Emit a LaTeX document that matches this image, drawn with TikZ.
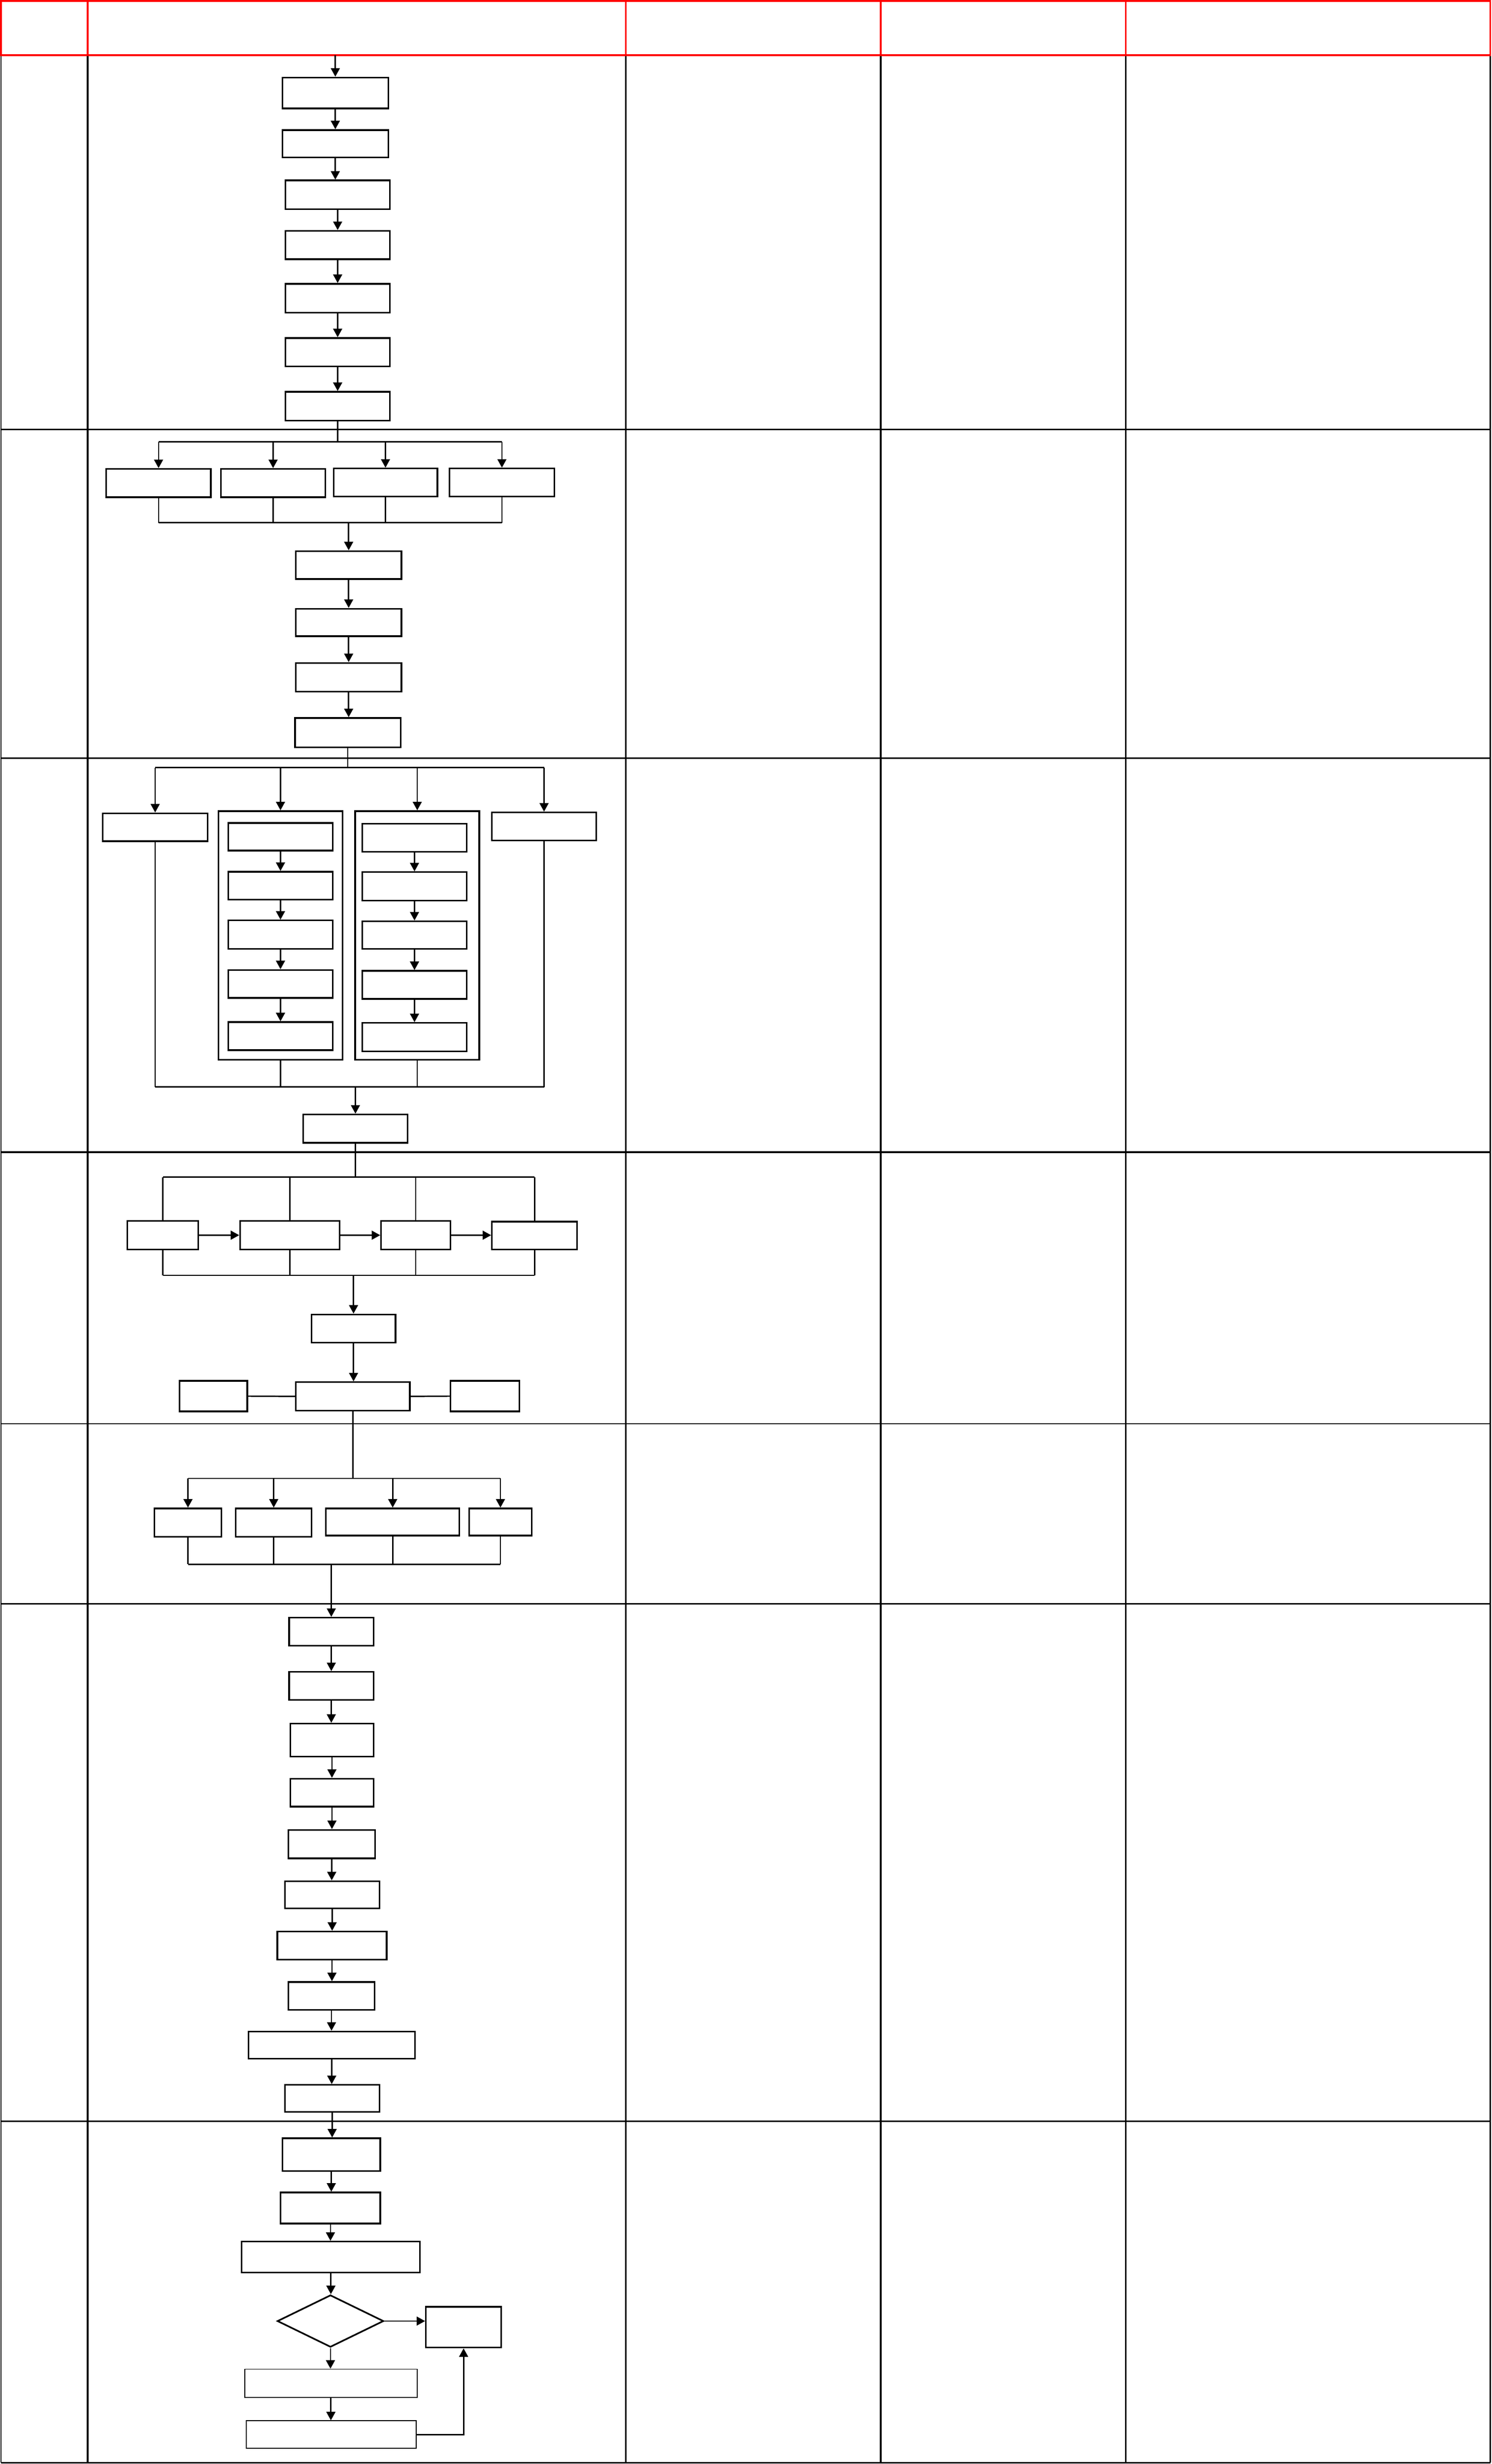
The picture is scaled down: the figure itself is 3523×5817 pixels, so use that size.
\documentclass[tikz,border=0pt]{standalone}
\usetikzlibrary{arrows.meta}
\usetikzlibrary{shapes.geometric}

\begin{document}
\begin{tikzpicture}
[x=0.01cm,y=-0.01cm,%
  boxDecorate/.style={shape=rectangle,draw,line width=1.1pt,inner sep=0pt},%
  thinDecorate/.style={shape=rectangle,draw,line width=0.6pt,inner sep=0pt},%
  diamondDecorate/.style={shape=diamond,draw,line width=1.1pt,inner sep=0pt,minimum width=2.51cm,minimum height=1.23cm},%
  lineDecorate/.style={-,line width=0.9pt},%
  arrowDecorate/.style={-{Triangle[length=5.7pt,width=6pt]},line width=0.9pt},%
  gridRed/.style={draw=red,line width=1.2pt},%
  gridBlack/.style={draw=black,line width=1.1pt}]
\fill[white] (0,0) rectangle (3523,5817);
\useasboundingbox (0,0) rectangle (3523,5817);
%% table grid
\draw[gridBlack,line width=0.6pt] (2,130) -- (2,5814);
\foreach \x in {207,1478,2080,2659,3520}
{
  \draw[gridBlack] (\x,130) -- (\x,5814);
}
\foreach \y in {1014,1790,2720,3786,5008,5814}
{
  \draw[gridBlack] (2,\y) -- (3520,\y);
}
\draw[gridBlack,line width=0.6pt] (2,3361) -- (3520,3361);
%% header row
\draw[gridRed] (2,2) rectangle (3520,130);
\foreach \x in {207,1478,2080,2659}
{
  \draw[gridRed] (\x,2) -- (\x,130);
}
%% boxes
\foreach \nodename/\x/\y/\w/\h in {
  s1a/792/219.5/2.50/0.73, s1b/792/339.5/2.50/0.65,
  s1c/797.5/460/2.47/0.68, s1d/797.5/578.5/2.47/0.67,
  s1e/797.5/704/2.47/0.68, s1f/797.5/831.5/2.47/0.67,
  s1g/797.5/959/2.47/0.68,
  s2a/374.5/1140.5/2.47/0.67, s2b/645/1140.5/2.46/0.67,
  s2c/910.5/1139/2.45/0.66, s2d/1185.5/1139/2.47/0.66,
  s2e/823.5/1334/2.49/0.66, s2f/823.5/1469.5/2.49/0.65,
  s2g/823.5/1599/2.49/0.68, s2h/821.5/1729.5/2.49/0.69,
  s3l/366.5/1953/2.47/0.66, s3r/1285/1951/2.46/0.66,
  grp1/662.5/2208.5/2.93/5.87, grp2/985.5/2208.5/2.93/5.87,
  g1a/662.5/1975.5/2.47/0.65, g1b/662.5/2091/2.47/0.66,
  g1c/662.5/2206.5/2.47/0.67, g1d/662.5/2323/2.47/0.66,
  g1e/662.5/2446/2.47/0.66,
  g2a/979/1978/2.46/0.66, g2b/979/2092.5/2.46/0.67,
  g2c/979/2207.5/2.46/0.65, g2d/979/2325/2.46/0.66,
  g2e/979/2448.5/2.46/0.67,
  s3s/839.5/2664.5/2.47/0.67,
  s4a/384.5/2916/1.67/0.68, s4b/684.5/2916/2.35/0.68,
  s4c/982/2916/1.64/0.68, s4d/1262.5/2917/2.01/0.66,
  s4t/835/3136.5/1.98/0.67, s4u/833.5/3296.5/2.69/0.67,
  s4v/504/3296/1.60/0.72, s4w/1145.5/3296/1.63/0.72,
  s5a/444/3594.5/1.58/0.67, s5b/646.5/3594.5/1.79/0.67,
  s5c/927.5/3593/3.15/0.64, s5d/1182/3593/1.48/0.64,
  s6a/782.5/3852/1.99/0.66, s6b/782.5/3980/1.99/0.66,
  s6c/784/4108/1.96/0.78, s6d/784/4232/1.96/0.66,
  s6e/783.5/4353.5/2.05/0.67, s6f/784.5/4473/2.23/0.64,
  s6g/784/4593/2.58/0.66, s6h/783/4712/2.04/0.66,
  s6i/783.5/4828/3.93/0.64, s6j/784.5/4954/2.23/0.64,
  s7a/782.5/5086.5/2.31/0.77, s7b/780.5/5212.5/2.35/0.73,
  s7c/781.5/5328.5/4.21/0.73, s7d/1095/5494/1.78/0.96}
{
  \node[boxDecorate,minimum width=\w cm,minimum height=\h cm] (\nodename) at (\x,\y) {};
}
\node[thinDecorate,minimum width=4.07cm,minimum height=0.67cm] (s7e) at (781.5,5626.5) {};
\node[thinDecorate,minimum width=4.01cm,minimum height=0.65cm] (s7f) at (782.5,5747.5) {};
\node[diamondDecorate] (s7q) at (780.5,5479.5) {};
%% branch and merge points
\coordinate (entry) at (792,130);
\coordinate (fork2) at (797.5,1043);
\coordinate (merge2) at (823.5,1234);
\coordinate (fork3) at (821.5,1812);
\coordinate (merge3) at (839.5,2566);
\coordinate (fork4) at (839.5,2779);
\coordinate (merge4) at (835,3011);
\coordinate (fork5) at (833.5,3490);
\coordinate (merge5) at (782.5,3693);
%% straight chains
\draw[arrowDecorate] (entry) -- (s1a.north);
\foreach \from/\to in {
  s1a/s1b, s1b/s1c, s1c/s1d, s1d/s1e, s1e/s1f, s1f/s1g,
  s2e/s2f, s2f/s2g, s2g/s2h,
  g1a/g1b, g1b/g1c, g1c/g1d, g1d/g1e,
  g2a/g2b, g2b/g2c, g2c/g2d, g2d/g2e,
  s4t/s4u,
  s6a/s6b, s6b/s6c, s6c/s6d, s6d/s6e, s6e/s6f, s6f/s6g, s6g/s6h,
  s6h/s6i, s6i/s6j, s6j/s7a,
  s7a/s7b, s7b/s7c, s7c/s7q, s7q/s7e, s7e/s7f}
{
  \draw[arrowDecorate] (\from.south) -- (\from.south |- \to.north);
}
%% fork and merge, part 2
\draw[lineDecorate] (s1g.south) -- (fork2);
\draw[lineDecorate] (s2a.north |- fork2) -- (s2d.north |- fork2);
\draw[lineDecorate] (s2a.south |- merge2) -- (s2d.south |- merge2);
\foreach \nodename in {s2a,s2b,s2c,s2d}
{
  \draw[arrowDecorate] (\nodename.north |- fork2) -- (\nodename.north);
  \draw[lineDecorate] (\nodename.south) -- (\nodename.south |- merge2);
}
\draw[arrowDecorate] (merge2) -- (s2e.north);
%% fork and merge, part 3
\draw[lineDecorate] (s2h.south) -- (fork3);
\draw[lineDecorate] (s3l.north |- fork3) -- (s3r.north |- fork3);
\draw[lineDecorate] (s3l.south |- merge3) -- (s3r.south |- merge3);
\foreach \nodename in {s3l,grp1,grp2,s3r}
{
  \draw[arrowDecorate] (\nodename.north |- fork3) -- (\nodename.north);
  \draw[lineDecorate] (\nodename.south) -- (\nodename.south |- merge3);
}
\draw[arrowDecorate] (merge3) -- (s3s.north);
%% fork and merge, part 4
\draw[lineDecorate] (s3s.south) -- (fork4);
\draw[lineDecorate] (s4a.north |- fork4) -- (s4d.north |- fork4);
\draw[lineDecorate] (s4a.south |- merge4) -- (s4d.south |- merge4);
\foreach \nodename in {s4a,s4b,s4c,s4d}
{
  \draw[lineDecorate] (\nodename.north |- fork4) -- (\nodename.north);
  \draw[lineDecorate] (\nodename.south) -- (\nodename.south |- merge4);
}
\foreach \from/\to in {s4a/s4b, s4b/s4c, s4c/s4d}
{
  \draw[arrowDecorate] (\from.east) -- (\from.east -| \to.west);
}
\draw[arrowDecorate] (merge4) -- (s4t.north);
\draw[lineDecorate] (s4v.east) -- (s4u.west);
\draw[lineDecorate] (s4u.east) -- (s4w.west);
%% fork and merge, part 5
\draw[lineDecorate] (s4u.south) -- (fork5);
\draw[lineDecorate] (s5a.north |- fork5) -- (s5d.north |- fork5);
\draw[lineDecorate] (s5a.south |- merge5) -- (s5d.south |- merge5);
\foreach \nodename in {s5a,s5b,s5c,s5d}
{
  \draw[arrowDecorate] (\nodename.north |- fork5) -- (\nodename.north);
  \draw[lineDecorate] (\nodename.south) -- (\nodename.south |- merge5);
}
\draw[arrowDecorate] (merge5) -- (s6a.north);
%% decision and loop back
\draw[arrowDecorate] (s7q.east) -- (s7q.east -| s7d.west);
\draw[arrowDecorate] (s7f.east) -| (s7d.south);
\end{tikzpicture}
\end{document}
